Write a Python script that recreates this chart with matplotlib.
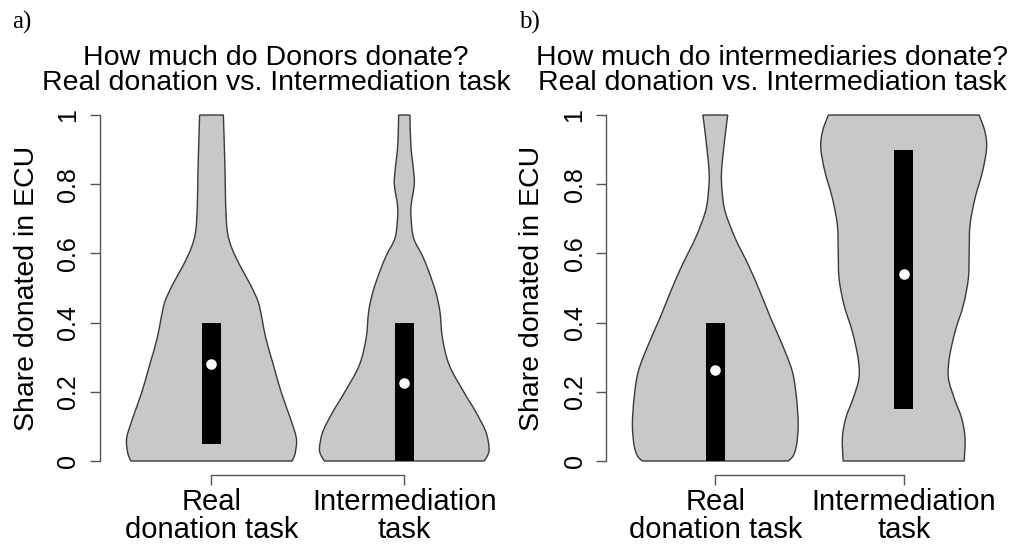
import matplotlib
matplotlib.use("Agg")
import matplotlib.pyplot as plt
from matplotlib.path import Path
from matplotlib.patches import PathPatch
import numpy as np

# ---------------- data ----------------
categories = ["Real\ndonation task", "Intermediation\ntask"]
title_a = "How much do Donors donate?\nReal donation vs. Intermediation task"
title_b = "How much do intermediaries donate?\nReal donation vs. Intermediation task"
panel_tags = ["a)", "b)"]
y_ticks = [0, 0.2, 0.4, 0.6, 0.8, 1]
y_tick_labels = ["0", "0.2", "0.4", "0.6", "0.8", "1"]
y_label = "Share donated in ECU"

# violin density profiles: share level and relative half-width (max = 1)
a_real_levels = [0, 0.01, 0.027, 0.066, 0.123, 0.2, 0.277, 0.355, 0.412, 0.46, 0.509, 0.566, 0.615, 0.663, 0.74, 0.836, 1.0]
a_real_width  = [0.95, 0.97, 0.99, 1.0, 0.93, 0.82, 0.73, 0.64, 0.595, 0.55, 0.46, 0.333, 0.24, 0.187, 0.167, 0.16, 0.14]

a_inter_levels = [0, 0.015, 0.037, 0.085, 0.143, 0.2, 0.277, 0.355, 0.432, 0.489, 0.547, 0.595, 0.644, 0.701, 0.74, 0.798, 0.836, 0.913, 1.0]
a_inter_width  = [0.94, 0.98, 1.0, 0.96, 0.84, 0.70, 0.53, 0.45, 0.42, 0.37, 0.29, 0.21, 0.11, 0.08, 0.081, 0.117, 0.11, 0.077, 0.067]

b_real_levels = [0, 0.015, 0.046, 0.104, 0.181, 0.258, 0.335, 0.412, 0.489, 0.566, 0.644, 0.72, 0.778, 0.836, 0.933, 1.0]
b_real_width  = [0.88, 0.94, 0.98, 1.0, 0.98, 0.93, 0.81, 0.67, 0.54, 0.40, 0.24, 0.12, 0.083, 0.075, 0.115, 0.15]

b_inter_levels = [0, 0.066, 0.123, 0.181, 0.239, 0.297, 0.374, 0.451, 0.528, 0.605, 0.682, 0.759, 0.836, 0.904, 0.952, 1.0]
b_inter_width  = [0.73, 0.74, 0.70, 0.61, 0.54, 0.55, 0.62, 0.72, 0.78, 0.79, 0.80, 0.86, 0.95, 1.0, 0.98, 0.91]

# box statistics: lower quartile, median, upper quartile
a_real_stats = [0.05, 0.28, 0.40]
a_inter_stats = [0.0, 0.225, 0.40]
b_real_stats = [0.0, 0.263, 0.40]
b_inter_stats = [0.15, 0.54, 0.90]

# ---------------- style ----------------
W, H = 1011, 547
plt.rcParams["font.family"] = ["Liberation Sans", "DejaVu Sans"]
fig = plt.figure(figsize=(W / 100, H / 100), dpi=100)

AX_COL = "#555555"
FILL = "#C8C8C8"
EDGE = "#3a3a3a"
HALF_W = 0.44
BOX_W = 0.10
XLIM = (0.42, 2.55)
YLIM = (-0.04, 1.04)


def px_axes(c1_px, scale_px):
    left = c1_px - (1 - XLIM[0]) * scale_px
    width = (XLIM[1] - XLIM[0]) * scale_px
    bottom = H - 474.8
    height = 474.8 - 101.2
    return [left / W, bottom / H, width / W, height / H]


def smooth_side(pts):
    """Bezier (Catmull-Rom) segments through the given outline points."""
    verts, codes = [], []
    n = len(pts)
    for i in range(n - 1):
        p0 = pts[max(i - 1, 0)]
        p1 = pts[i]
        p2 = pts[i + 1]
        p3 = pts[min(i + 2, n - 1)]
        c1 = p1 + (p2 - p0) / 6.0
        c2 = p2 - (p3 - p1) / 6.0
        verts += [tuple(c1), tuple(c2), tuple(p2)]
        codes += [Path.CURVE4] * 3
    return verts, codes


def violin_path(center, lev, wid):
    lev = np.asarray(lev, float)
    hw = np.asarray(wid, float) * HALF_W
    left = np.column_stack([center - hw, lev])
    right = np.column_stack([center + hw, lev])[::-1]
    verts = [tuple(left[0])]
    codes = [Path.MOVETO]
    v, c = smooth_side(left)
    verts += v
    codes += c
    verts.append(tuple(right[0]))
    codes.append(Path.LINETO)
    v, c = smooth_side(right)
    verts += v
    codes += c
    verts.append(tuple(left[0]))
    codes.append(Path.CLOSEPOLY)
    return Path(verts, codes)


def ax_left_px(ax):
    return ax.get_position().x0 * W


def ax_width_px(ax):
    return ax.get_position().width * W


def draw_panel(ax, profiles, stats, ylabel_x_px):
    for i, ((lev, wid), st) in enumerate(zip(profiles, stats)):
        c = i + 1
        ax.add_patch(PathPatch(violin_path(c, lev, wid), facecolor=FILL,
                               edgecolor=EDGE, linewidth=1.0, zorder=2))
        ax.bar(c, st[2] - st[0], bottom=st[0], width=BOX_W, color="black", zorder=3)
        ax.plot([c], [st[1]], "o", color="white", markersize=7.6,
                markeredgewidth=0, zorder=4)

    ax.set_xlim(*XLIM)
    ax.set_ylim(*YLIM)
    for s in ["top", "right"]:
        ax.spines[s].set_visible(False)
    ax.spines["left"].set_bounds(0, 1)
    ax.spines["bottom"].set_bounds(1, 2)
    for s in ["left", "bottom"]:
        ax.spines[s].set_color(AX_COL)
        ax.spines[s].set_linewidth(1.0)
    ax.set_yticks(y_ticks, y_tick_labels)
    ax.set_xticks([1, 2], categories)
    ax.tick_params(axis="y", length=7.5, width=1.0, color=AX_COL, labelsize=18, pad=6.5)
    ax.tick_params(axis="x", length=7.5, width=1.0, color=AX_COL, labelsize=21, pad=2.0)
    for lab in ax.get_yticklabels():
        lab.set_rotation(90)
        lab.set_va("center")
    for lab in ax.get_xticklabels():
        lab.set_linespacing(1.0)
    ax.set_ylabel(y_label, fontsize=20.5)
    ax.yaxis.set_label_coords((ylabel_x_px - ax_left_px(ax)) / ax_width_px(ax), 0.5)
    ax.patch.set_visible(False)


ax_a = fig.add_axes(px_axes(211.5, 192.8))
ax_b = fig.add_axes(px_axes(715.3, 188.4))

draw_panel(ax_a, [(a_real_levels, a_real_width), (a_inter_levels, a_inter_width)],
           [a_real_stats, a_inter_stats], 40)
draw_panel(ax_b, [(b_real_levels, b_real_width), (b_inter_levels, b_inter_width)],
           [b_real_stats, b_inter_stats], 545)

# titles (two centred lines each); va="baseline" anchors the last line
for text, cx in [(title_a, 276), (title_b, 772)]:
    fig.text(cx / W, 1 - 90.0 / H, text, ha="center", va="baseline",
             fontsize=20.5, linespacing=0.97, multialignment="center")

# panel tags
for tag, x in zip(panel_tags, [12, 519]):
    fig.text(x / W, 1 - 29 / H, tag, ha="left", va="baseline", fontsize=18,
             family=["Liberation Serif", "DejaVu Serif"])

fig.savefig("out.png", dpi=100)
